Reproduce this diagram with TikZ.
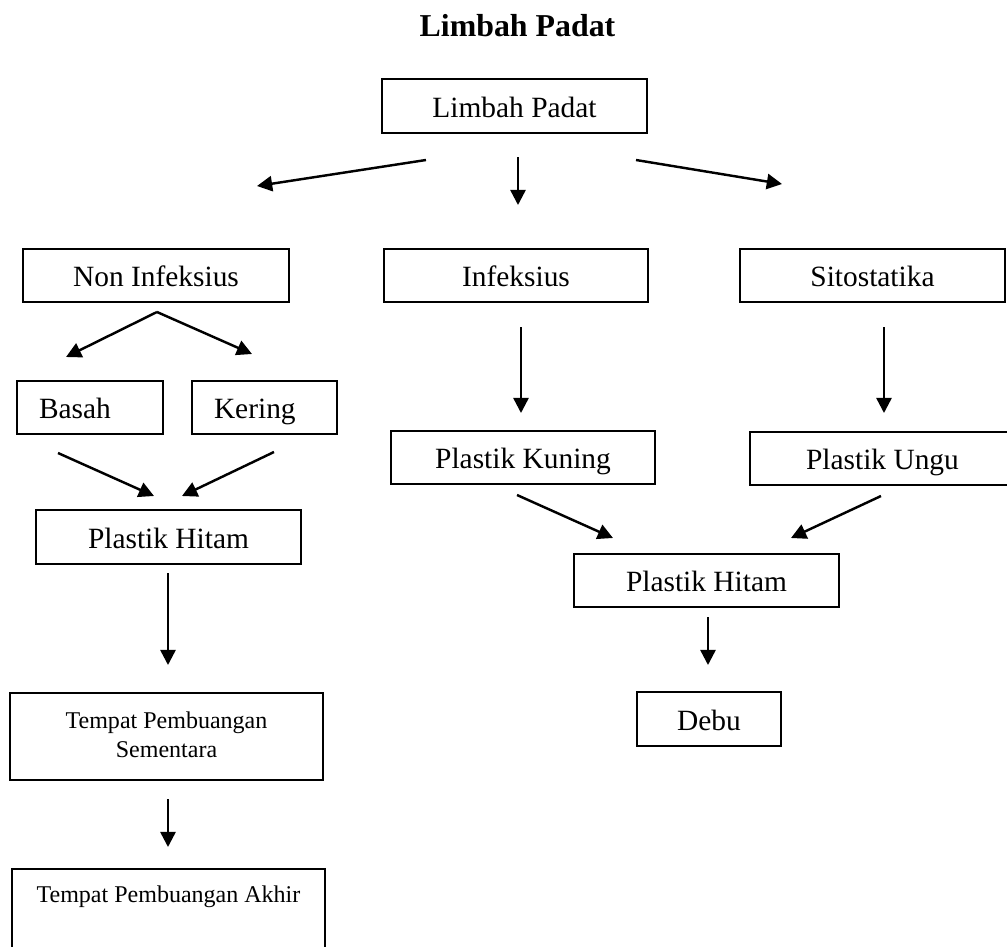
\documentclass[tikz,border=0pt]{standalone}
\usepackage{fontspec}
\setmainfont{Liberation Serif}
\usetikzlibrary{arrows.meta}
% one drawing unit
\newdimen\pxu \pxu=0.408pt
\begin{document}
\begin{tikzpicture}[x=0.408pt,y=-0.408pt,
  box/.style={draw, line width=0.7pt, inner sep=0pt,
    font=\fontsize{12}{14.4}\selectfont, text height=10pt, text depth=1pt},
  wh/.style 2 args={minimum width=#1*\pxu, minimum height=#2*\pxu},
  leftbox/.style={align=left, inner xsep=22*\pxu, text width=(#1-44)*\pxu},
  small/.style={font=\fontsize{9.8}{11.8}\selectfont},
  flow/.style={line width=1pt, -{Triangle[length=6.2pt,width=6.2pt]}}]
\useasboundingbox (0,0) rectangle (1007,947);
\clip (0,0) rectangle (1007,947);

% heading
\node[anchor=base, font=\fontsize{13}{15.6}\selectfont\bfseries] (title) at (517.5,36) {Limbah Padat};

% boxes
\node[box, wh={265}{54}] (lp) at (514.5,106) {Limbah Padat};
\node[box, wh={266}{53}] (ni) at (156,275.5) {Non Infeksius};
\node[box, wh={264}{53}] (inf) at (516,275.5) {Infeksius};
\node[box, wh={265}{53}] (sito) at (872.5,275.5) {Sitostatika};
\node[box, wh={146}{53}, leftbox=146] (basah) at (90,407.5) {Basah};
\node[box, wh={145}{53}, leftbox=145] (kering) at (264.5,407.5) {Kering};
\node[box, wh={265}{54}] (ph1) at (168.5,537) {Plastik Hitam};
\node[box, small, wh={313}{87}, align=center, text height=, text depth=] (tps) at (166.5,736.5)
  {Tempat Pembuangan\\Sementara\\[-10pt]};
\node[box, small, anchor=north, minimum width=313*\pxu, text height=34*\pxu, text depth=60*\pxu] (tpa) at (168.5,868)
  {Tempat Pembuangan Akhir};
\node[box, wh={264}{53}] (pk) at (523,457.5) {Plastik Kuning};
\node[box, wh={265}{53}] (pu) at (882.5,458.5) {Plastik Ungu};
\node[box, wh={265}{53}] (ph2) at (706.5,580.5) {Plastik Hitam};
\node[box, wh={144}{54}] (debu) at (709,719) {Debu};

% arrow end points
\coordinate (a1s) at (426,160);  \coordinate (a1e) at (257,186);
\coordinate (a2s) at (518,157);  \coordinate (a2e) at (518,205);
\coordinate (a3s) at (636,160);  \coordinate (a3e) at (782,184);
\coordinate (apex) at (157,312);
\coordinate (b1e) at (66,357);   \coordinate (b2e) at (252,354);
\coordinate (c1s) at (58,453);   \coordinate (c1e) at (154,496);
\coordinate (c2s) at (274,452);  \coordinate (c2e) at (182,496);
\coordinate (d1s) at (168,573);  \coordinate (d1e) at (168,665);
\coordinate (d2s) at (168,799);  \coordinate (d2e) at (168,847);
\coordinate (e1s) at (521,327);  \coordinate (e1e) at (521,413);
\coordinate (e2s) at (884,327);  \coordinate (e2e) at (884,413);
\coordinate (f1s) at (517,495);  \coordinate (f1e) at (613,538);
\coordinate (f2s) at (881,496);  \coordinate (f2e) at (791,538);
\coordinate (g1s) at (708,617);  \coordinate (g1e) at (708,665);

% arrows
\draw[flow] (a1s) -- (a1e);
\draw[flow] (a2s) -- (a2e);
\draw[flow] (a3s) -- (a3e);
\draw[flow] (apex) -- (b1e);
\draw[flow] (apex) -- (b2e);
\draw[flow] (c1s) -- (c1e);
\draw[flow] (c2s) -- (c2e);
\draw[flow] (d1s) -- (d1e);
\draw[flow] (d2s) -- (d2e);
\draw[flow] (e1s) -- (e1e);
\draw[flow] (e2s) -- (e2e);
\draw[flow] (f1s) -- (f1e);
\draw[flow] (f2s) -- (f2e);
\draw[flow] (g1s) -- (g1e);
\end{tikzpicture}
\end{document}
